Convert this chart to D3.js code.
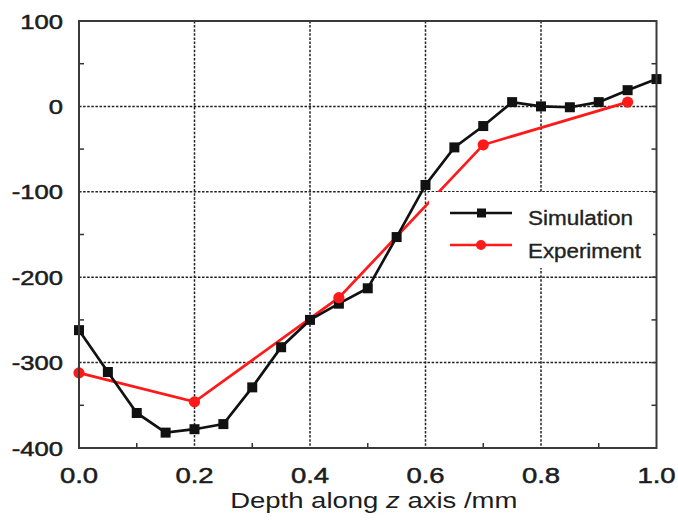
<!DOCTYPE html>
<html>
<head>
<meta charset="utf-8">
<script src="https://cdn.jsdelivr.net/npm/d3@7/dist/d3.min.js"></script>
<style>
  html, body { margin: 0; padding: 0; background: #fff; }
  svg { display: block; font-family: "Liberation Sans", Arial, sans-serif; }
</style>
</head>
<body>
<svg id="chart" width="678" height="531"></svg>
<script>
// Residual stress profile along depth
const simX = [0, 0.05, 0.1, 0.15, 0.2, 0.25, 0.3, 0.35, 0.4, 0.45, 0.5, 0.55, 0.6, 0.65, 0.7, 0.75, 0.8, 0.85, 0.9, 0.95, 1.0];
const simY = [-262, -311, -359, -382, -378, -372, -329, -282, -250, -231, -213, -153, -92, -48, -23, 5, 0, -1, 5, 19, 32];
const expX = [0, 0.2, 0.45, 0.7, 0.95];
const expY = [-312, -346, -224, -45, 5];

const xTicks = [0, 0.2, 0.4, 0.6, 0.8, 1.0];
const yTicks = [100, 0, -100, -200, -300, -400];
const seriesNames = ["Simulation", "Experiment"];
const xTitle = ["Depth along ", "z", " axis /mm"];

const svg = d3.select("#chart");
const L = 79, R = 656.5, T = 21, B = 448;
const x = d3.scaleLinear().domain([0, 1]).range([L, R]);
const y = d3.scaleLinear().domain([-400, 100]).range([B, T]);
const stretch = 1.25;
const ink = "#1c1c1c";

// dotted grid at major ticks
const grid = svg.append("g").attr("stroke", "#222").attr("stroke-width", 1.5).attr("stroke-dasharray", "2.5,1.6");
xTicks.filter(d => d > 0 && d < 1).forEach(d => {
  grid.append("line").attr("x1", x(d)).attr("x2", x(d)).attr("y1", T).attr("y2", B);
});
yTicks.filter(d => d > -400 && d < 100).forEach(d => {
  grid.append("line").attr("x1", L).attr("x2", R).attr("y1", y(d)).attr("y2", y(d));
});

// minor ticks
const tk = svg.append("g").attr("stroke", "#333").attr("stroke-width", 1.5);
d3.range(-350, 100, 100).forEach(d => {
  tk.append("line").attr("x1", L).attr("x2", L + 5).attr("y1", y(d)).attr("y2", y(d));
});
d3.range(-350, 100, 50).forEach(d => {
  tk.append("line").attr("x1", R).attr("x2", R - 5).attr("y1", y(d)).attr("y2", y(d));
});
[0.1, 0.3, 0.5, 0.7, 0.9].forEach(d => {
  tk.append("line").attr("x1", x(d)).attr("x2", x(d)).attr("y1", B).attr("y2", B - 5);
});

// series lines
const line = d3.line().x(d => x(d[0])).y(d => y(d[1]));
const simData = simX.map((v, i) => [v, simY[i]]);
const expData = expX.map((v, i) => [v, expY[i]]);

svg.append("path").datum(expData).attr("d", line)
  .attr("fill", "none").attr("stroke", "#ff1a1a").attr("stroke-width", 2.7);
svg.append("path").datum(simData).attr("d", line)
  .attr("fill", "none").attr("stroke", "#111").attr("stroke-width", 2.7);

const sq = 10;
svg.append("g").selectAll("rect").data(simData).join("rect")
  .attr("x", d => x(d[0]) - sq / 2).attr("y", d => y(d[1]) - sq / 2)
  .attr("width", sq).attr("height", sq).attr("fill", "#111");
svg.append("g").selectAll("circle").data(expData).join("circle")
  .attr("cx", d => x(d[0])).attr("cy", d => y(d[1])).attr("r", 5.6).attr("fill", "#ff1a1a");

// legend
const lg = svg.append("g");
lg.append("rect").attr("x", 429).attr("y", 192).attr("width", 224).attr("height", 76).attr("fill", "#fff");
const lgRows = [
  { name: seriesNames[0], color: "#111", yy: 213, base: 225, marker: "sq", len: 105 },
  { name: seriesNames[1], color: "#ff1a1a", yy: 245, base: 258, marker: "ci", len: 113 }
];
lgRows.forEach(r => {
  lg.append("line").attr("x1", 450).attr("x2", 512).attr("y1", r.yy).attr("y2", r.yy)
    .attr("stroke", r.color).attr("stroke-width", 2.7);
  if (r.marker === "sq") {
    lg.append("rect").attr("x", 477).attr("y", r.yy - 4.5).attr("width", 9).attr("height", 9).attr("fill", r.color);
  } else {
    lg.append("circle").attr("cx", 481).attr("cy", r.yy).attr("r", 5).attr("fill", r.color);
  }
  lg.append("text").attr("x", 528).attr("y", r.base).attr("font-size", 20.5).attr("fill", "#222")
    .attr("stroke", "#222").attr("stroke-width", 0.35)
    .attr("textLength", r.len).attr("lengthAdjust", "spacingAndGlyphs")
    .text(r.name);
});

// frame
svg.append("rect").attr("x", L).attr("y", T).attr("width", R - L).attr("height", B - T)
  .attr("fill", "none").attr("stroke", "#3a3a3a").attr("stroke-width", 2);

// tick labels (horizontally stretched glyphs)
const fmtX = d3.format(".1f");
xTicks.forEach(d => {
  svg.append("text").attr("transform", `translate(${x(d)},483) scale(${stretch},1)`)
    .attr("text-anchor", "middle").attr("font-size", 22).attr("fill", ink)
    .attr("stroke", ink).attr("stroke-width", 0.5)
    .text(fmtX(d));
});
yTicks.forEach(d => {
  svg.append("text").attr("transform", `translate(63,${y(d) + 7.5}) scale(${stretch},1)`)
    .attr("text-anchor", "end").attr("font-size", 20.5).attr("fill", ink)
    .attr("stroke", ink).attr("stroke-width", 0.5)
    .text(String(d));
});

// axis title
const tt = svg.append("text").attr("transform", `translate(${(L + R) / 2 + 6},508) scale(${stretch},1)`)
  .attr("text-anchor", "middle").attr("font-size", 22).attr("fill", ink);
tt.append("tspan").text(xTitle[0]);
tt.append("tspan").attr("font-style", "italic").text(xTitle[1]);
tt.append("tspan").text(xTitle[2]);
</script>
</body>
</html>
